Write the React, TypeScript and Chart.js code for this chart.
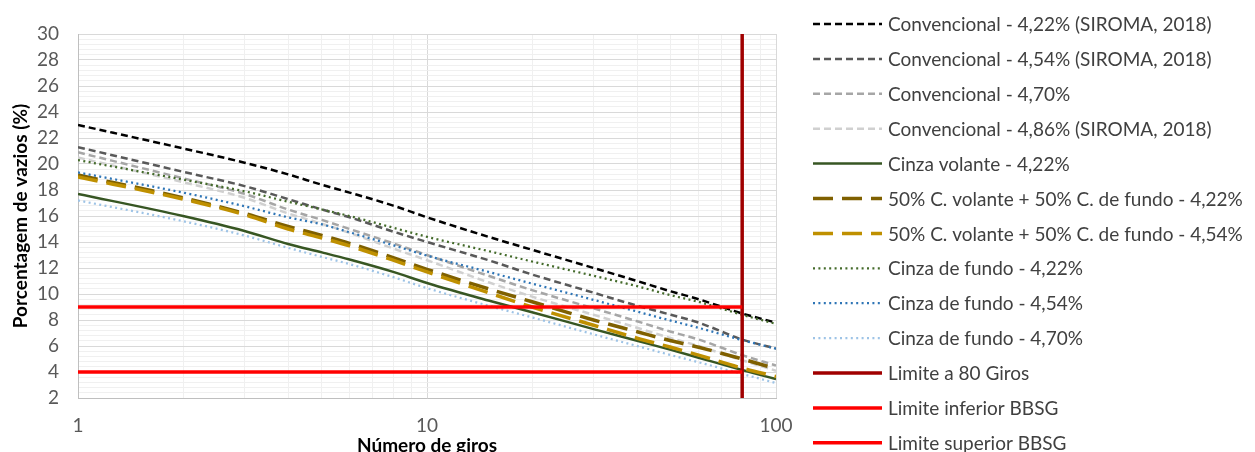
import { useEffect, useRef } from "react";
import { Chart, registerables } from "chart.js";

Chart.register(...registerables);

const giros = [1, 2, 3, 4, 5, 6, 8, 10, 15, 20, 30, 40, 50, 60, 80, 100];

const conv422 = [23.0, 21.2, 20.1, 19.2, 18.4, 17.8, 16.8, 15.9, 14.4, 13.4, 12.0, 11.0, 10.2, 9.6, 8.5, 7.8];
const conv454 = [21.3, 19.4, 18.3, 17.3, 16.5, 15.9, 14.8, 14.0, 12.6, 11.5, 10.1, 9.1, 8.4, 7.8, 6.5, 5.8];
const conv470 = [20.9, 18.9, 17.7, 16.5, 15.7, 15.0, 13.9, 13.0, 11.4, 10.3, 8.9, 7.9, 7.1, 6.5, 5.3, 4.5];
const conv486 = [20.5, 18.6, 17.4, 16.2, 15.4, 14.7, 13.5, 12.6, 10.9, 9.8, 8.4, 7.4, 6.6, 6.0, 4.9, 4.1];
const volante422 = [17.7, 16.0, 14.85, 13.85, 13.2, 12.65, 11.7, 10.85, 9.5, 8.6, 7.3, 6.4, 5.7, 5.1, 4.15, 3.45];
const mix422 = [19.15, 17.4, 16.2, 15.2, 14.5, 13.9, 12.8, 11.9, 10.4, 9.4, 8.0, 7.1, 6.4, 5.9, 5.0, 4.25];
const mix454 = [19.0, 17.3, 16.1, 15.0, 14.3, 13.7, 12.6, 11.7, 10.1, 9.0, 7.6, 6.6, 5.9, 5.3, 4.3, 3.65];
const fundo422 = [20.3, 18.8, 17.9, 17.1, 16.5, 16.0, 15.1, 14.4, 13.3, 12.5, 11.4, 10.6, 9.9, 9.4, 8.4, 7.7];
const fundo454 = [19.35, 17.8, 16.75, 15.9, 15.35, 14.75, 13.75, 12.95, 11.7, 10.8, 9.55, 8.65, 7.95, 7.4, 6.45, 5.8];
const fundo470 = [17.2, 15.6, 14.5, 13.55, 12.85, 12.3, 11.3, 10.45, 9.1, 8.2, 6.9, 6.0, 5.3, 4.75, 3.85, 3.15];

const limiteGiros = 80;
const limiteInferior = 4;
const limiteSuperior = 9;

const yMin = 2;
const yMax = 30;
const yMajorStep = 2;
const yMinorStep = 0.4;
const xMin = 1;
const xMax = 100;
const xLabelTicks = [1, 10, 100];
const xGridTicks = [1, 2, 3, 4, 5, 6, 7, 8, 9, 10, 20, 30, 40, 50, 60, 70, 80, 90, 100];

const FONT = "Lato, 'Open Sans', sans-serif";
const FONT_SIZE = 19;

const yGridTicks: number[] = [];
for (let i = 0; i <= Math.round((yMax - yMin) / yMinorStep); i++) {
  yGridTicks.push(Math.round((yMin + i * yMinorStep) * 10) / 10);
}
const isYMajor = (v: number) => Math.abs(v / yMajorStep - Math.round(v / yMajorStep)) < 1e-6;

const pts = (ys: number[]) => giros.map((g, i) => ({ x: g, y: ys[i] }));

const legendPlugin = {
  id: "sideLegend",
  afterDraw(chart: any) {
    const ctx = chart.ctx;
    const x0 = 813;
    const x1 = 882;
    const tx = 888;
    const y0 = 24;
    const dy = 34.9;
    chart.data.datasets.forEach((ds: any, i: number) => {
      const y = y0 + i * dy;
      ctx.save();
      ctx.strokeStyle = ds.borderColor;
      ctx.lineWidth = ds.borderWidth;
      ctx.setLineDash(ds.borderDash || []);
      ctx.beginPath();
      ctx.moveTo(x0, y);
      ctx.lineTo(x1, y);
      ctx.stroke();
      ctx.setLineDash([]);
      ctx.fillStyle = "#404040";
      ctx.font = `${FONT_SIZE}px ${FONT}`;
      ctx.textBaseline = "middle";
      ctx.textAlign = "left";
      ctx.fillText(ds.label, tx, y + 1);
      ctx.restore();
    });
  },
};

export default function App() {
  const ref = useRef<HTMLCanvasElement | null>(null);

  useEffect(() => {
    document.body.style.margin = "0";
    if (!ref.current) return;
    const DASH = [7, 4];
    const LONG = [20, 9];
    const DOT = [2, 3.4];
    const series = (label: string, ys: number[], color: string, width: number, dash: number[]) => ({
      label,
      data: pts(ys),
      borderColor: color,
      backgroundColor: color,
      borderWidth: width,
      borderDash: dash,
      pointRadius: 0,
      cubicInterpolationMode: "monotone",
      fill: false,
    });
    const datasets: any[] = [
      series("Convencional - 4,22% (SIROMA, 2018)", conv422, "#000000", 2.5, DASH),
      series("Convencional - 4,54% (SIROMA, 2018)", conv454, "#595959", 2.5, DASH),
      series("Convencional - 4,70%", conv470, "#a6a6a6", 2.5, DASH),
      series("Convencional - 4,86% (SIROMA, 2018)", conv486, "#d0d0d0", 2.5, DASH),
      series("Cinza volante - 4,22%", volante422, "#375623", 2.5, []),
      series("50% C. volante + 50% C. de fundo - 4,22%", mix422, "#7f6000", 3.5, LONG),
      series("50% C. volante + 50% C. de fundo - 4,54%", mix454, "#bf9000", 3.5, LONG),
      series("Cinza de fundo - 4,22%", fundo422, "#446b2b", 2.25, DOT),
      series("Cinza de fundo - 4,54%", fundo454, "#2e75b6", 2.25, DOT),
      series("Cinza de fundo - 4,70%", fundo470, "#9dc3e6", 2.25, DOT),
      {
        label: "Limite a 80 Giros",
        data: [{ x: limiteGiros, y: yMin }, { x: limiteGiros, y: yMax }],
        borderColor: "#a00000",
        borderWidth: 3.5,
        pointRadius: 0,
      },
      {
        label: "Limite inferior BBSG",
        data: [{ x: xMin, y: limiteInferior }, { x: limiteGiros, y: limiteInferior }],
        borderColor: "#ff0000",
        borderWidth: 3.5,
        pointRadius: 0,
      },
      {
        label: "Limite superior BBSG",
        data: [{ x: xMin, y: limiteSuperior }, { x: limiteGiros, y: limiteSuperior }],
        borderColor: "#ff0000",
        borderWidth: 3.5,
        pointRadius: 0,
      },
    ];
    datasets.forEach((d, i) => (d.order = datasets.length - i));

    const tickFont = { family: FONT, size: FONT_SIZE };
    const titleFont = { family: FONT, size: FONT_SIZE, weight: "bold" as const };

    const chart = new Chart(ref.current, {
      type: "line",
      data: { datasets },
      plugins: [legendPlugin],
      options: {
        animation: false,
        responsive: false,
        devicePixelRatio: 1,
        layout: { padding: { top: 34, right: 479, bottom: 0, left: 0 } },
        plugins: { legend: { display: false }, tooltip: { enabled: false } },
        scales: {
          x: {
            type: "logarithmic",
            min: xMin,
            max: xMax,
            afterBuildTicks: (s: any) => {
              s.ticks = xGridTicks.map((v) => ({ value: v }));
            },
            afterFit: (s: any) => {
              s.height = 54;
            },
            ticks: {
              autoSkip: false,
              maxRotation: 0,
              minRotation: 0,
              padding: 16,
              font: tickFont,
              color: "#595959",
              callback: (v: any) => (xLabelTicks.includes(Number(v)) ? String(v) : ""),
            },
            grid: {
              drawTicks: false,
              lineWidth: 1,
              color: (c: any) => (xLabelTicks.includes(c.tick?.value) ? "#d9d9d9" : "#f0f0f0"),
            },
            border: { color: "#bfbfbf", width: 1 },
            title: {
              display: true,
              text: "Número de giros",
              font: titleFont,
              color: "#000000",
              padding: { top: 0, bottom: -5 },
            },
          },
          y: {
            type: "linear",
            min: yMin,
            max: yMax,
            afterBuildTicks: (s: any) => {
              s.ticks = yGridTicks.map((v) => ({ value: v }));
            },
            afterFit: (s: any) => {
              s.width = 78;
            },
            ticks: {
              autoSkip: false,
              padding: 19,
              font: tickFont,
              color: "#595959",
              callback: (v: any) => (isYMajor(Number(v)) ? String(v) : ""),
            },
            grid: {
              drawTicks: false,
              lineWidth: 1,
              color: (c: any) => (isYMajor(c.tick?.value ?? 0) ? "#d9d9d9" : "#f0f0f0"),
            },
            border: { color: "#bfbfbf", width: 1 },
            title: {
              display: true,
              text: "Porcentagem de vazios (%)",
              font: titleFont,
              color: "#000000",
              padding: { top: 9, bottom: 0 },
            },
          },
        },
      } as any,
    });
    return () => chart.destroy();
  }, []);

  return (
    <div style={{ width: 1255, height: 452 }}>
      <canvas ref={ref} width={1255} height={452} style={{ display: "block" }} />
    </div>
  );
}
